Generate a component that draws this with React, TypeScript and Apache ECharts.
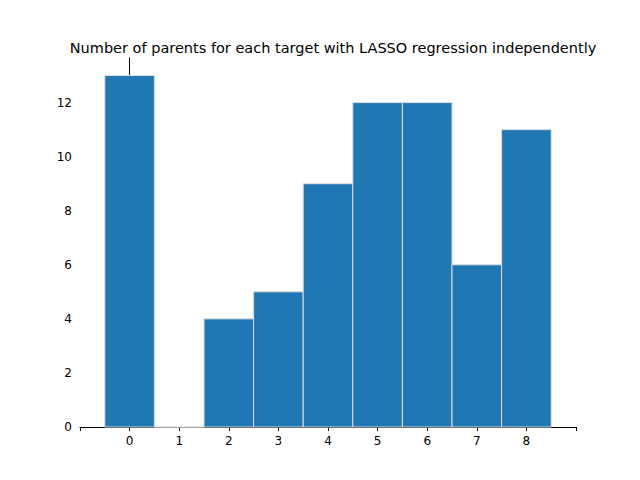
import React, { useEffect, useRef } from "react";
import * as echarts from "echarts";

const targets = [0, 1, 2, 3, 4, 5, 6, 7, 8];
const parentCounts = [13, 0, 4, 5, 9, 12, 12, 6, 11];

const App: React.FC = () => {
  const chartRef = useRef<HTMLDivElement>(null);

  useEffect(() => {
    if (!chartRef.current) return;
    const chart = echarts.init(chartRef.current, undefined, { renderer: "svg" });
    const font = "DejaVu Sans";

    chart.setOption({
      animation: false,
      title: {
        text: "Number of parents for each target with LASSO regression independently",
        left: 328,
        textAlign: "center",
        top: 35,
        textStyle: { fontFamily: font, fontSize: 14.5, fontWeight: "normal", color: "#000" },
      },
      grid: { left: 80, right: 64, top: 58, bottom: 53 },
      xAxis: {
        type: "value",
        min: -1,
        max: 9,
        interval: 1,
        splitLine: { show: false },
        axisLine: { show: true, onZero: false, lineStyle: { color: "#000" } },
        axisTick: { show: true, length: 4, lineStyle: { color: "#000" } },
        axisLabel: {
          fontFamily: font,
          fontSize: 12,
          color: "#000",
          formatter: (v: number) => (v < 0 || v > 8 ? "" : String(v)),
        },
      },
      yAxis: {
        type: "value",
        min: 0,
        max: 13.65,
        interval: 2,
        splitLine: { show: false },
        axisLine: { show: true, lineStyle: { color: "#000" } },
        axisTick: { show: true, length: 4, lineStyle: { color: "#000" } },
        axisLabel: {
          fontFamily: font,
          fontSize: 12,
          color: "#000",
          showMaxLabel: false,
        },
      },
      series: [
        {
          type: "custom",
          data: targets.map((t, i) => [t, parentCounts[i]]),
          renderItem: (_params: any, api: any) => {
            const x = api.value(0);
            const v = api.value(1);
            const p0 = api.coord([x - 0.5, v]);
            const p1 = api.coord([x + 0.5, 0]);
            return {
              type: "rect",
              shape: { x: p0[0], y: p0[1], width: p1[0] - p0[0], height: p1[1] - p0[1] },
              style: { fill: "#1f77b4", stroke: "#dddddd", lineWidth: 1 },
            };
          },
        },
      ],
    });

    return () => chart.dispose();
  }, []);

  return <div ref={chartRef} style={{ width: 640, height: 480, margin: -8 }} />;
};

export default App;
